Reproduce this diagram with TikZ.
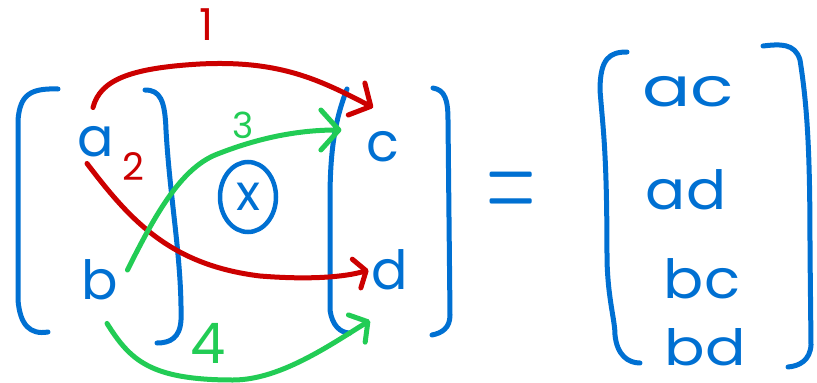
\documentclass[tikz,border=0pt]{standalone}
\usepackage{fontspec}
\setmainfont{Poppins}
\usetikzlibrary{arrows.meta,shapes.geometric}
\definecolor{penblue}{RGB}{0,112,210}
\definecolor{penred}{RGB}{204,0,0}
\definecolor{pengreen}{RGB}{34,204,85}
\begin{document}
\begin{tikzpicture}[x=1pt,y=-1pt,
  pen/.style={line width=5pt,line cap=round,line join=round},
  letter/.style={text=penblue,inner sep=0pt,font=\fontsize{54}{54}\selectfont},
  num/.style={inner sep=0pt},
  headA/.style={-{Straight Barb[length=16pt,width=36pt,round]}},
  headB/.style={-{Straight Barb[length=10pt,width=30pt,round]}},
  headC/.style={-{Straight Barb[length=18pt,width=40pt,round]}},
  headD/.style={-{Straight Barb[length=13pt,width=32pt,round]}}]
\useasboundingbox (0,0) rectangle (817,383);
% letters
\node[letter] (a) at (96,142) {a};
\node[letter] (b) at (100,280) {b};
\node[letter] (c) at (383,147) {c};
\node[letter] (d) at (390,270) {d};
\node[letter,xscale=1.15] (ac) at (688,92) {\scalebox{1.15}[1]{ac}};
\node[letter] (ad) at (686,190) {\scalebox{1.1}[1]{ad}};
\node[letter] (bc) at (702,279) {\scalebox{1.1}[1]{bc}};
\node[letter,font=\fontsize{50}{50}\selectfont] (bd) at (705,347) {\scalebox{1.2}[1]{bd}};
\node[draw=penblue,line width=4.5pt,ellipse,minimum width=56pt,minimum height=70pt,
      inner sep=0pt,text=penblue,font=\fontsize{50}{50}\selectfont] (xc) at (248,197) {x};
\node[text=penblue,inner sep=0pt,font=\sffamily\fontsize{150}{150}\selectfont] (eq) at (511,199) {\scalebox{0.45}[1]{=}};
% labels
\node[num,text=penred,font=\fontsize{44}{44}\selectfont] (l1) at (207,25) {1};
\node[num,text=penred,font=\fontsize{38}{38}\selectfont] (l2) at (133,167) {2};
\node[num,text=pengreen,font=\fontsize{36}{36}\selectfont] (l3) at (243,125) {3};
\node[num,text=pengreen,font=\fontsize{56}{56}\selectfont] (l4) at (208,343) {4};
% brackets
\begin{scope}[draw=penblue,pen]
\draw (58,89) .. controls (30,88) and (20,95) .. (18,120) -- (18,300)
      .. controls (20,325) and (30,335) .. (48,332);
\draw (145,90) .. controls (160,90) and (165,100) .. (166,130)
      .. controls (170,200) and (182,260) .. (181,320)
      .. controls (180,338) and (170,343) .. (157,343);
\draw (347,89) .. controls (335,120) and (330,150) .. (330,200) -- (330,310)
      .. controls (332,325) and (340,333) .. (350,333);
\draw (433,88) .. controls (445,90) and (448,100) .. (448,120) -- (450,315)
      .. controls (450,328) and (442,333) .. (432,335);
\draw (627,52) .. controls (610,52) and (600,58) .. (600,90)
      .. controls (603,130) and (607,150) .. (607,260)
      .. controls (608,300) and (615,320) .. (615,335)
      .. controls (617,355) and (628,363) .. (640,363);
\draw (763,46) .. controls (780,44) and (795,43) .. (800,60)
      .. controls (808,110) and (810,160) .. (810,250) -- (811,345)
      .. controls (810,360) and (800,366) .. (788,367);
\end{scope}
% connector ends
\coordinate (a1) at ([xshift=-3pt,yshift=19pt]a.north);
\coordinate (c1) at ([xshift=-10pt,yshift=24pt]c.north);
\coordinate (a2) at ([xshift=-9pt,yshift=-6pt]a.south);
\coordinate (d2) at ([xshift=-3pt]d.west);
\coordinate (b3) at ([xshift=9pt,yshift=10pt]b.east);
\coordinate (c3) at ([xshift=-25pt,yshift=17pt]c.west);
\coordinate (b4) at ([xshift=7pt,yshift=-23pt]b.south);
\coordinate (d4) at ([xshift=-20pt,yshift=-30pt]d.south);
% arrows
\draw[pen,draw=penred,headA] (a1) .. controls (100,80) and (130,68) .. (200,64)
      .. controls (280,60) and (320,80) .. (c1);
\draw[pen,draw=penred,headB] (a2) .. controls (130,220) and (170,265) .. (260,276)
      .. controls (310,280) and (345,277) .. (d2);
\draw[pen,draw=pengreen,headC] (b3) .. controls (155,215) and (180,170) .. (215,155)
      .. controls (260,137) and (300,130) .. (c3);
\draw[pen,draw=pengreen,headD] (b4) .. controls (130,360) and (150,380) .. (233,380)
      .. controls (280,380) and (330,345) .. (d4);
\end{tikzpicture}
\end{document}
